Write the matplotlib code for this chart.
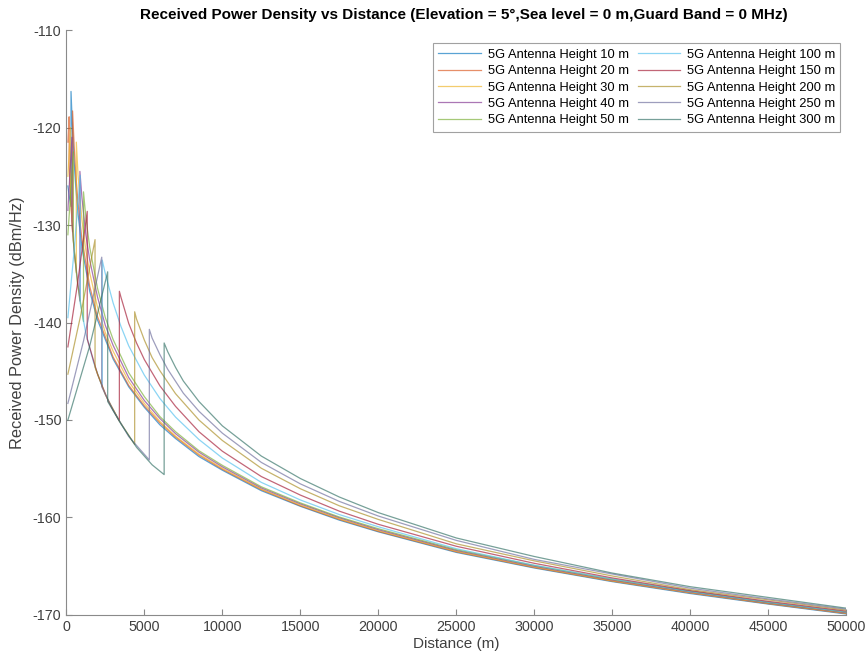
import matplotlib
matplotlib.use("Agg")
import matplotlib.pyplot as plt

plt.rcParams['font.family'] = ['Liberation Sans', 'DejaVu Sans']
plt.rcParams['axes.unicode_minus'] = False

# distances (m) and received power density (dBm/Hz)
d_10 = [100, 200, 300, 300, 400, 500, 600, 750, 1000, 1500, 2000, 3000, 4000, 5000, 6000,
        7000, 8500, 10000, 12500, 15000, 17500, 20000, 25000, 30000, 35000, 40000, 45000, 50000]
p_10 = [-126.0, -127.2, -128.1, -116.3, -120.4, -123.5, -126.0, -128.85, -132.3, -136.8,
        -139.75, -143.75, -146.6, -148.7, -150.5, -151.9, -153.75, -155.15, -157.25, -158.85,
        -160.27, -161.47, -163.58, -165.18, -166.58, -167.8, -168.88, -169.9]

d_20 = [100, 180, 180, 250, 400, 400, 500, 600, 750, 1000, 1500, 2000, 3000, 4000, 5000,
        6000, 7000, 8500, 10000, 12500, 15000, 17500, 20000, 25000, 30000, 35000, 40000,
        45000, 50000]
p_20 = [-121.5, -118.9, -123.8, -126.4, -130.7, -118.3, -121.8, -124.7, -127.7, -131.45,
        -136.3, -139.4, -143.55, -146.45, -148.55, -150.3, -151.75, -153.6, -155.05, -157.15,
        -158.8, -160.2, -161.42, -163.52, -165.13, -166.53, -167.74, -168.84, -169.85]

d_30 = [100, 270, 270, 400, 640, 640, 750, 1000, 1250, 1500, 2000, 2500, 3000, 4000, 5000,
        6000, 7000, 8500, 10000, 12500, 15000, 17500, 20000, 25000, 30000, 35000, 40000,
        45000, 50000]
p_30 = [-125.0, -120.0, -127.1, -130.7, -134.9, -121.5, -124.9, -129.5, -132.6, -134.9,
        -138.45, -141.05, -142.95, -146.05, -148.3, -150.15, -151.65, -153.5, -154.95,
        -157.1, -158.72, -160.15, -161.35, -163.47, -165.08, -166.5, -167.7, -168.8, -169.81]

d_40 = [100, 360, 360, 500, 870, 870, 1000, 1250, 1500, 2000, 2500, 3000, 4000, 5000, 6000,
        7000, 8500, 10000, 12500, 15000, 17500, 20000, 25000, 30000, 35000, 40000, 45000, 50000]
p_40 = [-128.5, -121.0, -129.6, -132.7, -137.8, -124.5, -127.2, -131.0, -133.6, -137.4,
        -140.3, -142.35, -145.65, -148.0, -149.85, -151.4, -153.3, -154.8, -156.97, -158.6,
        -160.03, -161.25, -163.38, -165.0, -166.42, -167.64, -168.75, -169.76]

d_50 = [100, 450, 450, 700, 1100, 1100, 1250, 1500, 2000, 2500, 3000, 4000, 5000, 6000,
        7000, 8500, 10000, 12500, 15000, 17500, 20000, 25000, 30000, 35000, 40000, 45000, 50000]
p_50 = [-131.0, -122.5, -131.6, -135.8, -139.9, -126.6, -129.2, -132.3, -136.5, -139.5,
        -141.75, -145.15, -147.6, -149.65, -151.2, -153.15, -154.65, -156.85, -158.5,
        -159.95, -161.15, -163.3, -164.92, -166.35, -167.57, -168.7, -169.7]

d_100 = [100, 500, 890, 890, 1250, 1750, 2300, 2300, 2500, 3000, 3500, 4000, 5000, 6000,
         7000, 8500, 10000, 12500, 15000, 17500, 20000, 25000, 30000, 35000, 40000, 45000, 50000]
p_100 = [-139.5, -132.6, -124.9, -138.0, -141.1, -144.1, -146.6, -133.6, -135.0, -138.0,
         -140.4, -142.4, -145.4, -147.8, -149.7, -152.0, -153.9, -156.4, -158.2, -159.7,
         -160.95, -163.2, -164.9, -166.3, -167.6, -168.7, -169.7]

d_150 = [100, 700, 1340, 1340, 2000, 2700, 3400, 3400, 3500, 4000, 4500, 5000, 6000, 7000,
         8500, 10000, 12500, 15000, 17500, 20000, 25000, 30000, 35000, 40000, 45000, 50000]
p_150 = [-142.5, -136.2, -128.6, -141.7, -145.3, -148.1, -150.1, -136.8, -137.4, -140.1,
         -142.1, -143.8, -146.5, -148.6, -151.2, -153.2, -155.8, -157.7, -159.35, -160.7,
         -162.95, -164.7, -166.2, -167.5, -168.6, -169.6]

d_200 = [100, 900, 1840, 1840, 2500, 3400, 4380, 4380, 4500, 5000, 5500, 6000, 7000, 8500,
         10000, 12500, 15000, 17500, 20000, 25000, 30000, 35000, 40000, 45000, 50000]
p_200 = [-145.3, -139.4, -131.5, -144.6, -147.4, -150.1, -152.5, -138.9, -139.65, -141.8,
         -143.6, -144.95, -147.3, -150.0, -152.1, -154.95, -157.05, -158.8, -160.2, -162.7,
         -164.45, -166.0, -167.4, -168.45, -169.5]

d_250 = [100, 1100, 2270, 2270, 3000, 4000, 5320, 5320, 5500, 6000, 6500, 7500, 8500, 10000,
         12500, 15000, 17500, 20000, 25000, 30000, 35000, 40000, 45000, 50000]
p_250 = [-148.3, -141.9, -133.3, -146.6, -149.0, -151.7, -154.1, -140.7, -141.6, -143.3,
         -144.8, -147.25, -149.1, -151.35, -154.35, -156.55, -158.35, -159.85, -162.35,
         -164.3, -165.8, -167.25, -168.35, -169.4]

d_300 = [100, 1500, 2650, 2650, 3500, 4500, 5500, 6270, 6270, 6500, 7000, 7500, 8500, 10000,
         12500, 15000, 17500, 20000, 25000, 30000, 35000, 40000, 45000, 50000]
p_300 = [-150.0, -142.4, -134.8, -148.1, -150.4, -152.8, -154.6, -155.6, -142.1, -143.0,
         -144.6, -146.0, -148.1, -150.6, -153.7, -156.0, -157.9, -159.5, -162.1, -164.0,
         -165.7, -167.1, -168.2, -169.3]

heights = [10, 20, 30, 40, 50, 100, 150, 200, 250, 300]
colors = ['#0072BD', '#D95319', '#EDB120', '#7E2F8E', '#77AC30',
          '#4DBEEE', '#A2142F', '#A88A1E', '#6A6A9A', '#2E6E62']

series = [(d_10, p_10), (d_20, p_20), (d_30, p_30), (d_40, p_40), (d_50, p_50),
          (d_100, p_100), (d_150, p_150), (d_200, p_200), (d_250, p_250), (d_300, p_300)]

fig = plt.figure(figsize=(8.66, 6.61), dpi=100)
ax = fig.add_axes([0.0766, 0.0696, 0.9007, 0.885])

for h, c, (d, p) in zip(heights, colors, series):
    ax.plot(d, p, color=c, lw=0.9, alpha=0.65, label=f"5G Antenna Height {h} m")

ax.set_xlim(0, 50000)
ax.set_ylim(-170, -110)
ax.set_xticks(range(0, 50001, 5000))
ax.set_yticks(range(-170, -109, 10))

ax.spines['top'].set_visible(False)
ax.spines['right'].set_visible(False)
for s in ('left', 'bottom'):
    ax.spines[s].set_color('#8a8a8a')
    ax.spines[s].set_linewidth(0.8)
ax.tick_params(direction='in', length=4, width=0.8, color='#8a8a8a',
               labelcolor='#404040', labelsize=10.3)

ax.set_xlabel("Distance (m)", fontsize=11, color='#404040', labelpad=2)
ax.set_ylabel("Received Power Density (dBm/Hz)", fontsize=11.8, color='#404040', labelpad=6)
ax.set_title("Received Power Density vs Distance (Elevation = 5°,Sea level = 0 m,Guard Band = 0 MHz)",
             fontsize=11, fontweight='bold', pad=8, x=0.51)

leg = ax.legend(loc='upper right', bbox_to_anchor=(0.992, 0.977), borderaxespad=0, ncol=2,
                fontsize=9.3, frameon=True, fancybox=False, edgecolor='#8a8a8a',
                handlelength=3.3, handletextpad=0.5, columnspacing=0.7, labelspacing=0.34,
                borderpad=0.4)
leg.get_frame().set_linewidth(0.8)

fig.savefig("out.png", dpi=100)
